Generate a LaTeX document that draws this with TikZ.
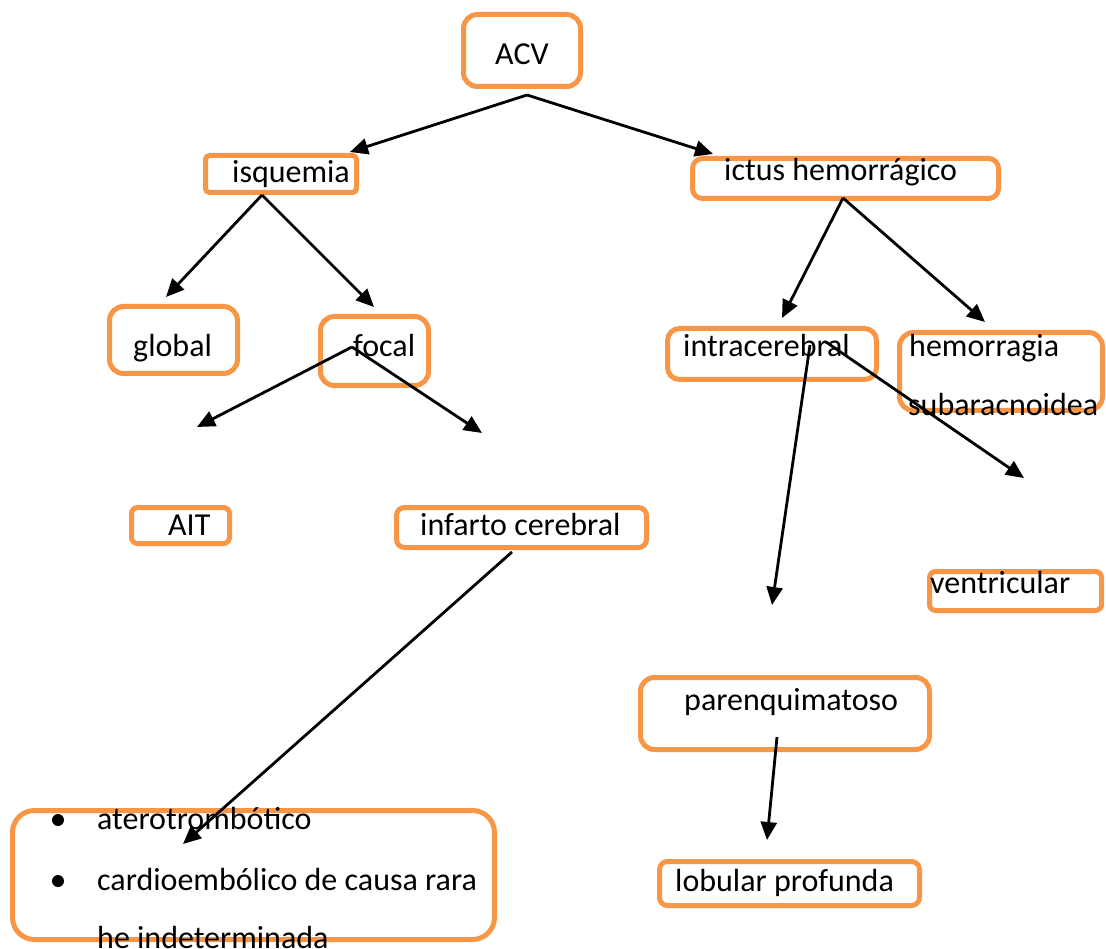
\documentclass[tikz,border=0pt]{standalone}
\usepackage{fontspec}
\setmainfont{Carlito}
\usetikzlibrary{arrows.meta}
\definecolor{boxorange}{HTML}{F79646}
\begin{document}
\begin{tikzpicture}[x=1pt,y=-1pt,
  box/.style={draw=boxorange, line width=5pt, rounded corners=#1, rectangle, inner sep=0pt},
  box/.default=14pt,
  lbl/.style={anchor=base west, inner sep=0pt, font=\fontsize{32}{38}\selectfont},
  dot/.style={circle, fill=black, inner sep=0pt, minimum size=12pt},
  arr/.style={line width=2.8pt, -{Triangle[length=18pt,width=16pt]}}]
\useasboundingbox (0,0) rectangle (1106,949);

% boxes
\node[box=14pt, minimum width=117pt, minimum height=72pt] (acv) at (522,50.5) {};
\node[box=4pt, minimum width=151pt, minimum height=37pt] (isq) at (281,174) {};
\node[box=10pt, minimum width=306pt, minimum height=40pt] (ictus) at (845.5,178.5) {};
\node[box=14pt, minimum width=128pt, minimum height=67pt] (glob) at (173.5,340) {};
\node[box=14pt, minimum width=108pt, minimum height=69pt] (foc) at (374.5,351) {};
\node[box=12pt, minimum width=209pt, minimum height=51pt] (intra) at (772,354) {};
\node[box=14pt, minimum width=203pt, minimum height=78pt] (hsub) at (1001,371.5) {};
\node[box=6pt, minimum width=98pt, minimum height=36pt] (ait) at (180.5,525.5) {};
\node[box=8pt, minimum width=250pt, minimum height=40pt] (inf) at (521.5,527.5) {};
\node[box=6pt, minimum width=172pt, minimum height=39pt] (vent) at (1015.5,591) {};
\node[box=14pt, minimum width=289pt, minimum height=72pt] (par) at (785,713.5) {};
\node[box=8pt, minimum width=260pt, minimum height=44pt] (lob) at (789.5,883.5) {};
\node[box=22pt, minimum width=482pt, minimum height=129pt] (list) at (253.5,875) {};

% labels
\node[lbl] (tacv) at (495,65) {ACV};
\node[lbl] (tisq) at (232,183) {isquemia};
\node[lbl] (tictus) at (724,181) {ictus hemorrágico};
\node[lbl] (tglob) at (133,357) {global};
\node[lbl] (tfoc) at (353,357) {focal};
\node[lbl] (tintra) at (683,357) {intracerebral};
\node[lbl] (thsub1) at (909,357) {hemorragia};
\node[lbl] (thsub2) at (908,416) {subaracnoidea};
\node[lbl] (tait) at (168,535) {AIT};
\node[lbl] (tinf) at (420,535) {infarto cerebral};
\node[lbl] (tvent) at (930,593) {ventricular};
\node[lbl] (tpar) at (684,710) {parenquimatoso};
\node[lbl] (tlob) at (675,891) {lobular profunda};
\node[dot] (b1) at (58,820) {};
\node[dot] (b2) at (58,881) {};
\node[lbl] (tl1) at (97,829) {aterotrombótico};
\node[lbl] (tl2) at (97,890) {cardioembólico de causa rara};
\node[lbl] (tl3) at (97,948) {he indeterminada};

% connector endpoints
\coordinate (s1) at (527,95);
\coordinate (e1) at (350,152);
\coordinate (e2) at (713,154);
\coordinate (s3) at (262,195);
\coordinate (e3) at (166,297);
\coordinate (e4) at (374,307);
\coordinate (s5) at (352,347);
\coordinate (e5) at (197,427);
\coordinate (e6) at (482,433);
\coordinate (s7) at (843,198);
\coordinate (e7) at (782,318);
\coordinate (e8) at (985,322);
\coordinate (s9) at (810,345);
\coordinate (e9) at (772,605);
\coordinate (s10) at (826,342);
\coordinate (e10) at (1024,478);
\coordinate (s11) at (512,552);
\coordinate (e11) at (183,844);
\coordinate (s12) at (777,737);
\coordinate (e12) at (767,840);

\draw[arr] (s1) -- (e1);
\draw[arr] (s1) -- (e2);
\draw[arr] (s3) -- (e3);
\draw[arr] (s3) -- (e4);
\draw[arr] (s5) -- (e5);
\draw[arr] (s5) -- (e6);
\draw[arr] (s7) -- (e7);
\draw[arr] (s7) -- (e8);
\draw[arr] (s9) -- (e9);
\draw[arr] (s10) -- (e10);
\draw[arr] (s11) -- (e11);
\draw[arr] (s12) -- (e12);
\end{tikzpicture}
\end{document}
